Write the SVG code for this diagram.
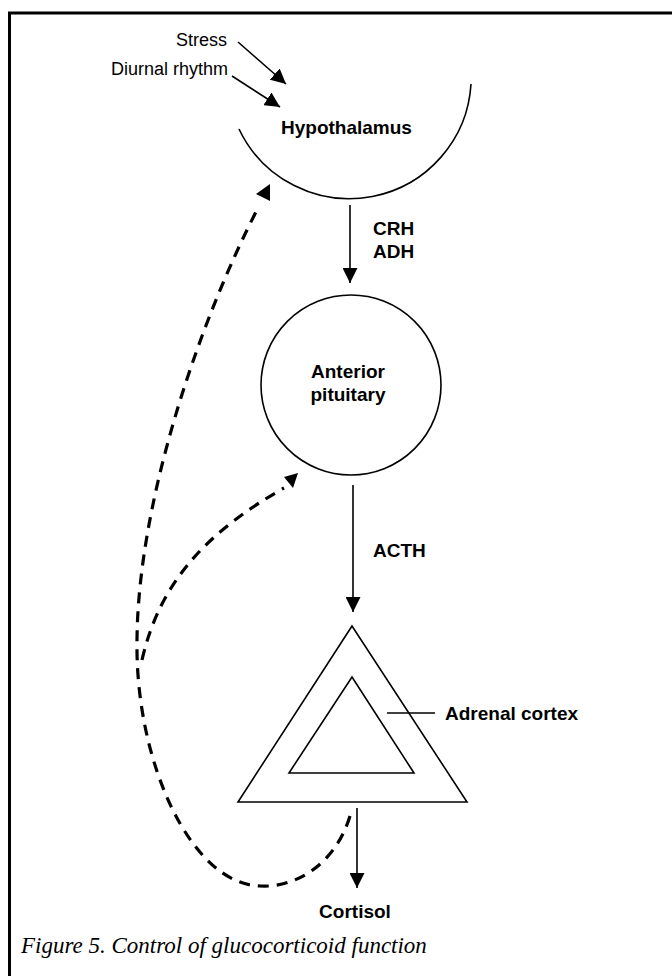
<svg xmlns="http://www.w3.org/2000/svg" width="672" height="976" viewBox="0 0 672 976">
<defs>
<style>
.lbl{font-family:"Liberation Sans",Arial,sans-serif;font-size:19px;font-weight:bold;fill:#000}
.reg{font-family:"Liberation Sans",Arial,sans-serif;font-size:18px;fill:#000}
.cap{font-family:"Liberation Serif","Times New Roman",serif;font-size:23px;font-style:italic;fill:#000}
.ln{fill:none;stroke:#000;stroke-width:1.6}
.dash{fill:none;stroke:#000;stroke-width:3.2;stroke-dasharray:11 8}
.head{fill:#000;stroke:none}
</style>
<marker id="ahb" viewBox="0 0 10 10" refX="10" refY="5" markerWidth="15" markerHeight="15" markerUnits="userSpaceOnUse" orient="auto">
<path d="M0,0 L10,5 L0,10 z" fill="#000"/>
</marker>
</defs>
<rect width="672" height="976" fill="#fff"/>
<path d="M9.5 976 V13 H672" fill="none" stroke="#000" stroke-width="3"/>

<g id="stress">
<text class="reg" x="227" y="46" text-anchor="end">Stress</text>
</g>
<g id="diurnal">
<text class="reg" x="228" y="75" text-anchor="end">Diurnal rhythm</text>
</g>
<g id="hypothalamus">
<path class="ln" d="M239 129 A122 122 0 0 0 471 84"/>
<text class="lbl" x="281" y="134">Hypothalamus</text>
</g>
<g id="pituitary">
<circle class="ln" cx="351" cy="385" r="90"/>
<text class="lbl" x="348" y="378" text-anchor="middle">Anterior</text>
<text class="lbl" x="348" y="401" text-anchor="middle">pituitary</text>
</g>
<g id="adrenal">
<polygon class="ln" points="352,626 238,802 467,802"/>
<polygon class="ln" points="352,677 289,773 414,773"/>
<line class="ln" x1="387" y1="713" x2="435" y2="713"/>
<text class="lbl" x="445" y="720">Adrenal cortex</text>
</g>
<g id="cortisol">
<text class="lbl" x="355" y="918" text-anchor="middle">Cortisol</text>
</g>
<g id="connectors">
<line class="ln" x1="238" y1="42" x2="286" y2="84" marker-end="url(#ahb)"/>
<line class="ln" x1="232" y1="76" x2="280" y2="107" marker-end="url(#ahb)"/>
<line class="ln" x1="350" y1="205" x2="350" y2="283" marker-end="url(#ahb)"/>
<text class="lbl" x="373" y="235">CRH</text>
<text class="lbl" x="373" y="258">ADH</text>
<line class="ln" x1="353" y1="485" x2="353" y2="612" marker-end="url(#ahb)"/>
<text class="lbl" x="373" y="557">ACTH</text>
<line class="ln" x1="357" y1="808" x2="357" y2="888" marker-end="url(#ahb)"/>
<path class="dash" d="M350 816 C335 865 295 888 260 886 C190 884 135 760 137 640 C138 500 200 320 258 208"/>
<polygon class="head" points="270,184 256,194 270,201"/>
<path class="dash" d="M142 660 C160 580 210 530 284 488"/>
<polygon class="head" points="298,473 284,477 293,488"/>
</g>
<text class="cap" x="21" y="953">Figure 5. Control of glucocorticoid function</text>
</svg>
